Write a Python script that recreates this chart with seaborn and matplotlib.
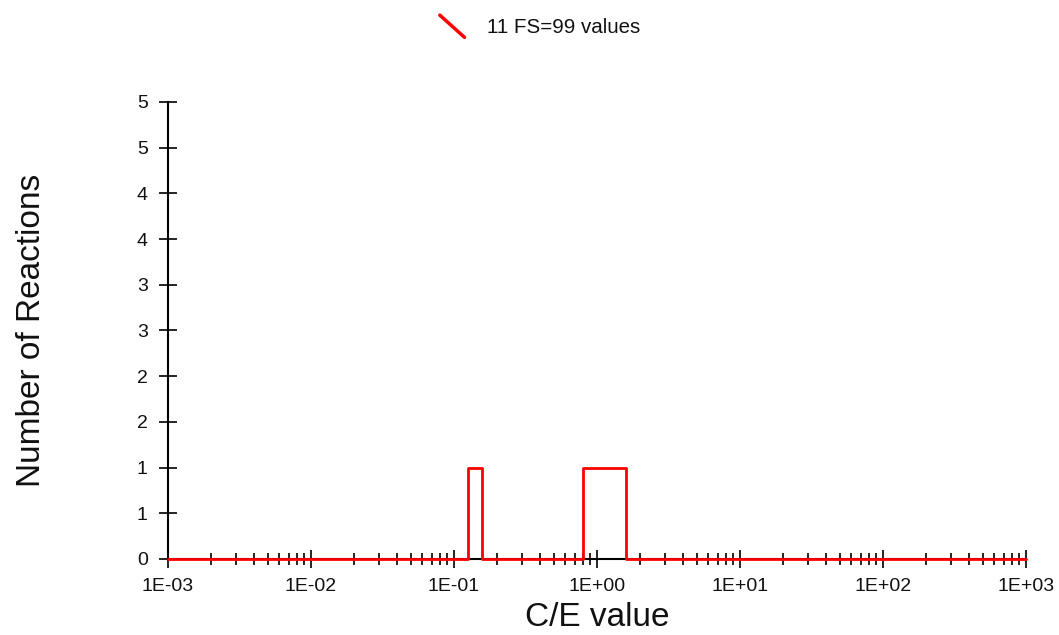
import matplotlib
matplotlib.use("Agg")
import matplotlib.pyplot as plt
import matplotlib.ticker as ticker
from matplotlib.lines import Line2D
from matplotlib.legend_handler import HandlerBase
import seaborn as sns

# ── Data ──────────────────────────────────────────────────────────────────────

# histogram of C/E values (step edges, count of reactions in each bin)
CE_EDGES = [1e-3, 0.126, 0.158, 0.794, 1.585, 1e3]
COUNTS = [0, 1, 0, 1, 0, 0]

Y_TICKS = [0, 0.5, 1, 1.5, 2, 2.5, 3, 3.5, 4, 4.5, 5]
Y_LABELS = ["0", "1", "1", "2", "2", "3", "3", "4", "4", "5", "5"]
SERIES_LABEL = "11 FS=99 values"
LINE_COLOR = "#ff0000"

# ── Style ─────────────────────────────────────────────────────────────────────

sns.set_theme(style="white")
plt.rcParams["font.family"] = ["Liberation Sans", "DejaVu Sans"]


class DiagonalHandler(HandlerBase):
    """Legend key drawn as a short '\\' stroke."""
    def create_artists(self, legend, orig_handle, xdescent, ydescent,
                       width, height, fontsize, trans):
        x0, x1 = -xdescent, -xdescent + width
        yc = -ydescent + height / 2
        ln = Line2D([x0, x1], [yc + 8, yc - 8], color=orig_handle.get_color(),
                    lw=orig_handle.get_linewidth(), solid_capstyle="round",
                    transform=trans)
        return [ln]


fig = plt.figure(figsize=(10.59, 6.35), dpi=100)
ax = fig.add_axes([0.1586, 0.1197, 0.8102, 0.7197])

sns.lineplot(x=CE_EDGES, y=COUNTS, ax=ax, color=LINE_COLOR, lw=2,
             drawstyle="steps-post", clip_on=False, zorder=5,
             solid_joinstyle="round")

ax.set_xscale("log")
ax.set_xlim(1e-3, 1e3)
ax.set_ylim(0, 5)
ax.xaxis.set_major_locator(ticker.LogLocator(base=10, numticks=10))
ax.xaxis.set_minor_locator(ticker.LogLocator(base=10, subs=range(2, 10), numticks=10))
ax.xaxis.set_major_formatter(ticker.FuncFormatter(lambda v, _: f"{v:.0E}"))
ax.xaxis.set_minor_formatter(ticker.NullFormatter())
ax.set_yticks(Y_TICKS)
ax.set_yticklabels(Y_LABELS)

ax.tick_params(axis="both", which="major", direction="inout", length=13,
               width=1.2, color="black", labelsize=14, labelcolor="#111111",
               bottom=True, left=True)
ax.tick_params(axis="x", which="major", pad=7)
ax.tick_params(axis="y", which="major", pad=8)
ax.tick_params(axis="x", which="minor", direction="inout", length=8,
               width=1.2, color="black", bottom=True)

for side in ("top", "right"):
    ax.spines[side].set_visible(False)
for side in ("left", "bottom"):
    ax.spines[side].set_color("black")
    ax.spines[side].set_linewidth(1.5)

ax.set_xlabel("C/E value", fontsize=24, labelpad=5, color="#111111")
ax.set_ylabel("Number of Reactions", fontsize=24, labelpad=65, color="#111111")

handle = Line2D([], [], color=LINE_COLOR, lw=2.5)
fig.legend([handle], [SERIES_LABEL], loc="center", bbox_to_anchor=(0.51, 0.956),
           frameon=False, fontsize=14.8, handlelength=1.2, handletextpad=1.1,
           handler_map={Line2D: DiagonalHandler()}, labelcolor="#111111")

fig.savefig("out.png", dpi=100)
